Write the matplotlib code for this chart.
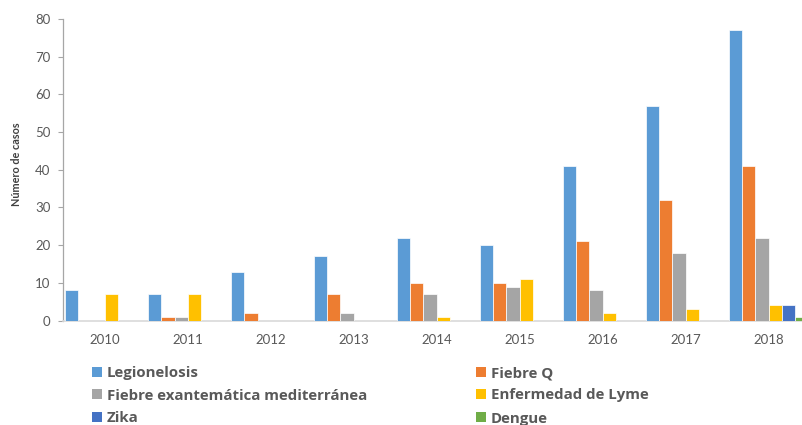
import matplotlib
matplotlib.use("Agg")
import matplotlib.pyplot as plt
import matplotlib.patches as mpatches
import numpy as np

plt.rcParams["font.family"] = ["Lato", "DejaVu Sans"]

# ---- data
YEARS = ["2010", "2011", "2012", "2013", "2014", "2015", "2016", "2017", "2018"]
SERIES = ["Legionelosis", "Fiebre Q", "Fiebre exantemática mediterránea",
          "Enfermedad de Lyme", "Zika", "Dengue"]
LEGIONELOSIS = [8, 7, 13, 17, 22, 20, 41, 57, 77]
FIEBRE_Q = [0, 1, 2, 7, 10, 10, 21, 32, 41]
FIEBRE_EXANT = [0, 1, 0, 2, 7, 9, 8, 18, 22]
LYME = [7, 7, 0, 0, 1, 11, 2, 3, 4]
ZIKA = [0, 0, 0, 0, 0, 0, 0, 0, 4]
DENGUE = [0, 0, 0, 0, 0, 0, 0, 0, 1]

COLORS = ["#5B9BD5", "#ED7D31", "#A5A5A5", "#FFC000", "#4472C4", "#70AD47"]
TXT = "#595959"

W, H = 803, 425
fig = plt.figure(figsize=(W / 100, H / 100), dpi=100, facecolor="white")
ax = fig.add_axes([63.5 / W, 1 - 320.5 / H, (810 - 63.5) / W, (320.5 - 19) / H])

values = [LEGIONELOSIS, FIEBRE_Q, FIEBRE_EXANT, LYME, ZIKA, DENGUE]
x = np.arange(len(YEARS))
bw = 80 / 83 / 6
for i, (vals, col) in enumerate(zip(values, COLORS)):
    ax.bar(x + (i - 2.5) * bw, vals, width=bw, color=col,
           edgecolor="white", linewidth=0.5, zorder=3)

ax.set_xlim(-0.5, len(YEARS) - 0.5)
ax.set_ylim(0, 80)
ax.set_yticks(range(0, 81, 10))
ax.set_xticks(x)
ax.set_xticklabels(YEARS)

for s in ("top", "right"):
    ax.spines[s].set_visible(False)
ax.spines["left"].set_color("#A6A6A6")
ax.spines["left"].set_linewidth(0.9)
ax.spines["bottom"].set_color("#D9D9D9")
ax.spines["bottom"].set_linewidth(1.2)
ax.tick_params(axis="y", length=3.5, width=0.8, color="#A6A6A6",
               labelsize=9.5, labelcolor=TXT, pad=6)
ax.tick_params(axis="x", length=0, labelsize=9.5, labelcolor=TXT, pad=10)

fig.text(17 / W, 1 - 164 / H, "Número de casos", rotation=90, ha="center",
         va="center", fontsize=7.8, fontweight="bold", color="#404040")

# ---- legend (3 rows x 2 columns)
legend_pos = [(92, 371.5), (476, 371.5), (92, 393.5), (476, 393.5), (92, 416.5), (476, 416.5)]
for name, col, (lx, ly) in zip(SERIES, COLORS, legend_pos):
    fig.patches.append(mpatches.Rectangle(
        (lx / W, 1 - (ly + 5) / H), 10 / W, 10 / H,
        transform=fig.transFigure, facecolor=col, edgecolor="none"))
    fig.text((lx + 15) / W, 1 - (ly + 0.5) / H, name, ha="left",
             va="center_baseline", fontsize=10.8, fontweight="bold", color=TXT,
             family=["Open Sans", "DejaVu Sans"])

fig.savefig("out.png", dpi=100, facecolor="white")
